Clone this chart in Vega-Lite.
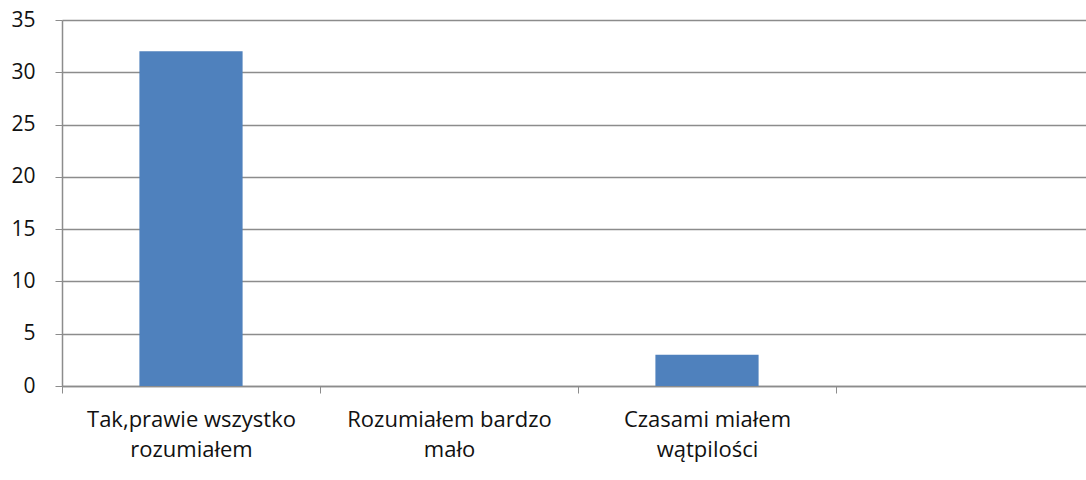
{
  "$schema": "https://vega.github.io/schema/vega-lite/v6.json",
  "autosize": "none",
  "width": 1032,
  "height": 366,
  "padding": {"left": 62, "top": 20, "right": 0, "bottom": 94},
  "background": "white",
  "config": {"view": {"stroke": null}},
  "data": {
    "values": [
      {"kategoria": "Tak,prawie wszystko rozumiałem", "wartosc": 32},
      {"kategoria": "Rozumiałem bardzo mało", "wartosc": 0},
      {"kategoria": "Czasami miałem wątpilości", "wartosc": 3}
    ]
  },
  "mark": {"type": "bar", "color": "#4F81BD", "width": {"band": 0.4}},
  "encoding": {
    "x": {
      "field": "kategoria",
      "type": "nominal",
      "sort": null,
      "scale": {
        "domain": ["Tak,prawie wszystko rozumiałem", "Rozumiałem bardzo mało", "Czasami miałem wątpilości", ""],
        "paddingInner": 0,
        "paddingOuter": 0
      },
      "axis": {
        "title": null,
        "labelAngle": 0,
        "labelExpr": "datum.value == 'Tak,prawie wszystko rozumiałem' ? ['Tak,prawie wszystko', 'rozumiałem'] : datum.value == 'Rozumiałem bardzo mało' ? ['Rozumiałem bardzo', 'mało'] : datum.value == 'Czasami miałem wątpilości' ? ['Czasami miałem', 'wątpilości'] : ''",
        "labelFont": "Open Sans",
        "labelFontSize": 22,
        "labelLimit": 400,
        "labelColor": "#111111",
        "labelLineHeight": 30,
        "labelPadding": 16,
        "labelBaseline": "top",
        "tickBand": "extent",
        "ticks": true,
        "tickSize": 7,
        "tickColor": "#8C8C8C",
        "domainColor": "#8C8C8C",
        "domainWidth": 1.5,
        "grid": false
      }
    },
    "y": {
      "field": "wartosc",
      "type": "quantitative",
      "scale": {"domain": [0, 35], "nice": false},
      "axis": {
        "title": null,
        "values": [0, 5, 10, 15, 20, 25, 30, 35],
        "labelFont": "Open Sans",
        "labelFontSize": 21,
        "labelColor": "#111111",
        "labelPadding": 20,
        "tickSize": 7,
        "tickColor": "#8C8C8C",
        "domainColor": "#8C8C8C",
        "domainWidth": 1.5,
        "grid": true,
        "gridColor": "#8C8C8C",
        "gridWidth": 1.3
      }
    }
  }
}
